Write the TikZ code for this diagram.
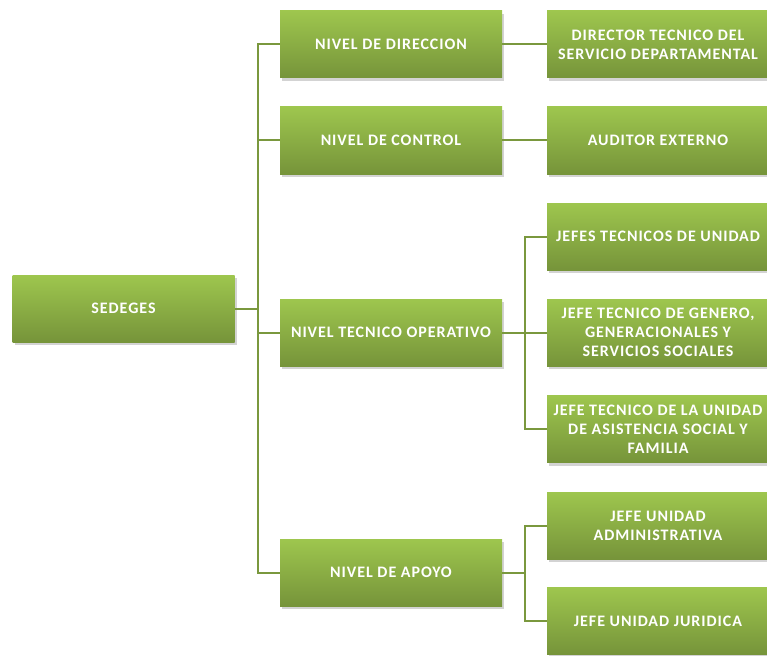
\documentclass[tikz,border=0pt]{standalone}
\usepackage{fontspec}
\setmainfont{Carlito}[LetterSpace=6]
\definecolor{boxTop}{RGB}{158,198,78}
\definecolor{boxBottom}{RGB}{118,148,58}
\definecolor{lineGreen}{RGB}{122,152,62}
\usetikzlibrary{shadows}

\begin{document}
\begin{tikzpicture}[x=1pt,y=-1pt,
  orgbox/.style={rectangle, minimum width=222pt, minimum height=67pt, inner sep=2pt,
    top color=boxTop, bottom color=boxBottom, draw=none, text=white, align=center,
    font=\fontsize{16}{19}\selectfont\bfseries,
    drop shadow={shadow xshift=2pt, shadow yshift=-3pt, opacity=0.35}},
  conn/.style={lineGreen, line width=2pt}]
\useasboundingbox (0,0) rectangle (767,655);

% Root
\node[orgbox] (sedeges) at (123.5,308.5) {SEDEGES};

% Levels
\node[orgbox] (direccion) at (391,44.5) {NIVEL DE DIRECCION};
\node[orgbox] (control) at (391,140.5) {NIVEL DE CONTROL};
\node[orgbox] (operativo) at (391,332.5) {NIVEL TECNICO OPERATIVO};
\node[orgbox] (apoyo) at (391,572.5) {NIVEL DE APOYO};

% Positions
\node[orgbox] (director) at (658,44.5) {DIRECTOR TECNICO DEL\\SERVICIO DEPARTAMENTAL};
\node[orgbox] (auditor) at (658,140.5) {AUDITOR EXTERNO};
\node[orgbox] (jefes) at (658,236.5) {JEFES TECNICOS DE UNIDAD};
\node[orgbox] (genero) at (658,332.5) {JEFE TECNICO DE GENERO,\\GENERACIONALES Y\\SERVICIOS SOCIALES};
\node[orgbox] (asistencia) at (658,429) {JEFE TECNICO DE LA UNIDAD\\DE ASISTENCIA SOCIAL Y\\FAMILIA};
\node[orgbox] (admin) at (658,525.5) {JEFE UNIDAD\\ADMINISTRATIVA};
\node[orgbox] (juridica) at (658,621) {JEFE UNIDAD JURIDICA};

% Connectors
\coordinate (busA) at (258,308.5);
\coordinate (busB) at (525,332.5);
\coordinate (busC) at (525,572.5);
\begin{scope}[on background layer/.try]
\draw[conn] (sedeges.east) -- (busA);
\foreach \n in {direccion,control,operativo,apoyo}
  \draw[conn] (busA) |- (\n.west);
\draw[conn] (direccion.east) -- (director.west);
\draw[conn] (control.east) -- (auditor.west);
\draw[conn] (operativo.east) -- (busB);
\foreach \n in {jefes,genero,asistencia}
  \draw[conn] (busB) |- (\n.west);
\draw[conn] (apoyo.east) -- (busC);
\foreach \n in {admin,juridica}
  \draw[conn] (busC) |- (\n.west);
\end{scope}
\end{tikzpicture}
\end{document}
